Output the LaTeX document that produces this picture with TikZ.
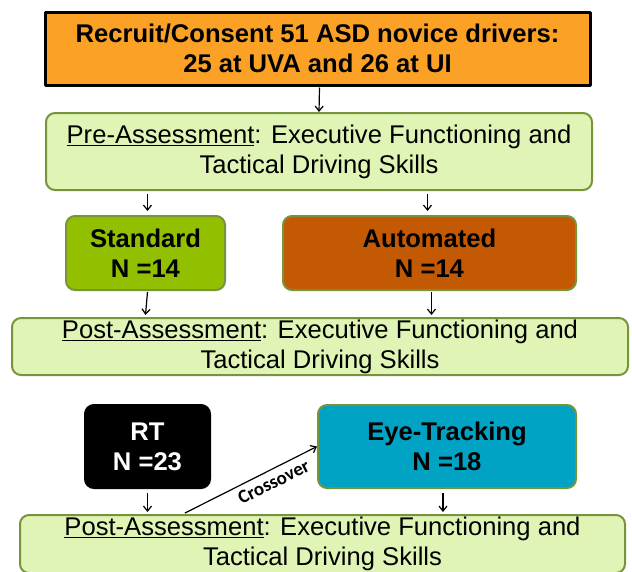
\documentclass[tikz,border=0pt]{standalone}
\usepackage{fontspec}
\setmainfont{Liberation Sans}
\newfontfamily\crossfont{Carlito}
\usetikzlibrary{arrows.meta,calc}
\definecolor{recruit}{RGB}{250,161,38}
\definecolor{assess}{RGB}{224,245,181}
\definecolor{olive}{RGB}{119,147,60}
\definecolor{standard}{RGB}{146,192,0}
\definecolor{automated}{RGB}{196,89,3}
\definecolor{eyetrack}{RGB}{0,163,196}
\tikzset{
  every picture/.style={line join=round, >={Straight Barb[length=5pt,width=8pt]}},
  txt/.style={font=\fontsize{25.6}{30}\selectfont, align=center, inner sep=0pt},
  bold/.style={txt, font=\fontsize{25.6}{30}\selectfont\bfseries},
  assessbox/.style={txt, draw=olive, line width=2pt, fill=assess, rounded corners=9pt},
  groupbox/.style={bold, draw=olive, line width=2pt, rounded corners=9pt},
  flow/.style={->, line width=1.2pt},
}
\begin{document}
\begin{tikzpicture}[x=1pt,y=-1pt]
\useasboundingbox (0,0) rectangle (632,571);
\node[bold, draw=black, line width=3pt, fill=recruit, minimum width=545pt, minimum height=73pt] (recruit) at (317.5,48.5) {Recruit/Consent 51 ASD novice drivers:\\25 at UVA and 26 at UI};
\node[assessbox, minimum width=546pt, minimum height=77pt] (pre) at (319,151.5) {\underline{Pre-Assessment}: Executive Functioning and\\Tactical Driving Skills};
\node[groupbox, fill=standard, minimum width=159pt, minimum height=74pt] (std) at (145.5,253) {Standard\\N =14};
\node[groupbox, fill=automated, minimum width=293pt, minimum height=74pt] (auto) at (429.5,253) {Automated\\N =14};
\node[assessbox, minimum width=616pt, minimum height=57pt] (post) at (320,346.5) {\underline{Post-Assessment}: Executive Functioning and\\Tactical Driving Skills};
\node[groupbox, draw=black, fill=black, text=white, minimum width=125pt, minimum height=83pt] (rt) at (147.5,446.5) {RT\\N =23};
\node[groupbox, fill=eyetrack, minimum width=258pt, minimum height=83pt] (eye) at (447,446.5) {Eye-Tracking\\N =18};
\node[assessbox, minimum width=605pt, minimum height=58pt] (post2) at (322.5,544) {\underline{Post-Assessment}: Executive Functioning and\\Tactical Driving Skills};
\coordinate (cross) at (185,513);
% arrows
\draw[flow] ($(recruit.south)+(2,1)$) -- (pre.north);
\draw[flow] ($(pre.south -| std.north)+(2,3)$) -- ($(std.north)+(2,-4)$);
\draw[flow] ($(pre.south -| auto.north)+(-2,3)$) -- ($(auto.north)+(-2,-4)$);
\draw[flow] ($(std.south)+(2,1)$) -- ($(post.north -| std.south)+(0,-2)$);
\draw[flow] ($(auto.south)+(2,1)$) -- ($(post.north -| auto.south)+(2,-2)$);
\draw[flow] ($(rt.south)+(0,4)$) -- ($(post2.north -| rt.south)+(0,-2)$);
\draw[flow] ($(eye.south)+(-4,4)$) -- ($(post2.north -| eye.south)+(-4,-2)$);
\draw[flow] (cross) -- node[pos=0.63, sloped, below=2pt, font=\crossfont\fontsize{19}{21}\selectfont\bfseries] {Crossover} (eye.west);
\end{tikzpicture}
\end{document}
